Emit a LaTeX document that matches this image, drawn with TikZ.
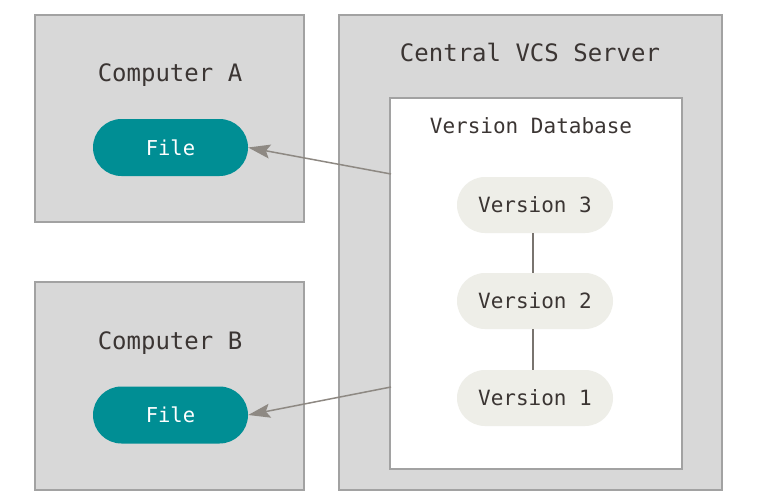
\documentclass[tikz,border=0pt]{standalone}
\usepackage{fontspec}
\setmonofont{DejaVu Sans Mono}
\usetikzlibrary{arrows.meta}
\definecolor{boxfill}{HTML}{D8D8D8}
\definecolor{boxline}{HTML}{A2A2A2}
\definecolor{teal}{HTML}{008E94}
\definecolor{verfill}{HTML}{EEEEE8}
\definecolor{txt}{HTML}{3B3533}
\definecolor{arr}{HTML}{8E8983}
\tikzset{
  panel/.style={draw=boxline, fill=boxfill, line width=1.5pt, inner sep=0pt},
  dbbox/.style={draw=boxline, fill=white, line width=1.5pt, inner sep=0pt},
  title/.style={font=\ttfamily\fontsize{24}{28}\selectfont, text=txt},
  sub/.style={font=\ttfamily\fontsize{21}{25}\selectfont, text=txt},
  filenode/.style={fill=teal, rounded corners=28.5pt, minimum width=155pt, minimum height=57pt, inner sep=0pt, font=\ttfamily\fontsize{20.5}{24}\selectfont, text=white},
  vernode/.style={fill=verfill, rounded corners=28pt, minimum width=156pt, minimum height=56pt, inner sep=0pt, font=\ttfamily\fontsize{21}{25}\selectfont, text=txt},
  conn/.style={draw=arr, line width=1.5pt, -{Stealth[length=22pt, width=14pt, inset=4pt]}},
  vline/.style={draw=arr!85!black, line width=1.5pt}
}
\begin{document}
\begin{tikzpicture}[x=1pt, y=-1pt]
\useasboundingbox (0,0) rectangle (772,499);
% panels
\path[panel] (35,15) rectangle (304,222);
\path[panel] (35,282) rectangle (304,490);
\path[panel] (339,15) rectangle (722,490);
\path[dbbox] (390,98) rectangle (682,469);
% titles
\node[title] (ta) at (170,75) {Computer A};
\node[title] (tb) at (170,343) {Computer B};
\node[title] (ts) at (530,52) {Central VCS Server};
\node[sub] (td) at (531,126) {Version Database};
% files
\node[filenode] (fa) at (170.5,147.5) {File};
\node[filenode] (fb) at (170.5,415) {File};
% versions
\node[vernode] (v3) at (535,205) {Version 3};
\node[vernode] (v2) at (535,301) {Version 2};
\node[vernode] (v1) at (535,398) {Version 1};
\draw[vline] (v3.south -| 533,0) -- (v2.north -| 533,0);
\draw[vline] (v2.south -| 533,0) -- (v1.north -| 533,0);
% connectors
\coordinate (sa) at (391,174);
\coordinate (sb) at (391,387);
\draw[conn] (sa) -- (fa.east);
\draw[conn] (sb) -- (fb.east);
\end{tikzpicture}
\end{document}
